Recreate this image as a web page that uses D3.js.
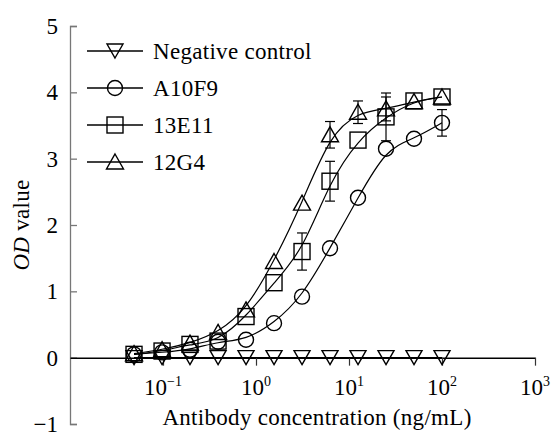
<!DOCTYPE html>
<html>
<head>
<meta charset="utf-8">
<script src="https://cdn.jsdelivr.net/npm/d3@7"></script>
<style>
  html, body { margin: 0; padding: 0; background: #fff; }
  #chart text { font-family: "Liberation Serif", "Times New Roman", serif !important; }
</style>
</head>
<body>
<svg id="chart" width="554" height="438"></svg>
<script>
// antibody concentration (ng/mL), twofold dilutions
const conc = [0.0488, 0.0977, 0.195, 0.391, 0.781, 1.5625, 3.125, 6.25, 12.5, 25, 50, 100];
const negValues  = [0.0, 0.0, 0.0, 0.0, 0.0, 0.0, 0.0, 0.0, 0.0, 0.0, 0.0, 0.0];
const a10f9Values = [0.05, 0.08, 0.12, 0.24, 0.27, 0.52, 0.92, 1.65, 2.41, 3.15, 3.30, 3.54];
const e13Values   = [0.05, 0.10, 0.20, 0.25, 0.62, 1.13, 1.60, 2.66, 3.28, 3.63, 3.87, 3.93];
const g4Values    = [0.06, 0.12, 0.22, 0.38, 0.72, 1.45, 2.33, 3.36, 3.70, 3.75, 3.86, 3.93];
const negErr   = [0, 0, 0, 0, 0, 0, 0, 0, 0, 0, 0, 0];
const a10f9Err = [0, 0, 0, 0, 0, 0, 0, 0, 0, 0, 0, 0.20];
const e13Err   = [0, 0, 0, 0, 0, 0, 0.28, 0.30, 0, 0.36, 0, 0];
const g4Err    = [0, 0, 0, 0, 0, 0, 0, 0.20, 0.17, 0.18, 0, 0];
const seriesNames = ['Negative control', 'A10F9', '13E11', '12G4'];
const seriesShapes = ['down', 'circle', 'square', 'up'];
const yTicks = [-1, 0, 1, 2, 3, 4, 5];
const xTickExp = [-1, 0, 1, 2, 3];

const FONT = '"Liberation Serif", "Times New Roman", serif';

const series = [
  { name: seriesNames[0], shape: seriesShapes[0], v: negValues, e: negErr },
  { name: seriesNames[1], shape: seriesShapes[1], v: a10f9Values, e: a10f9Err },
  { name: seriesNames[2], shape: seriesShapes[2], v: e13Values, e: e13Err },
  { name: seriesNames[3], shape: seriesShapes[3], v: g4Values, e: g4Err }
];

const svg = d3.select('#chart').style('font-family', FONT);
const x = d3.scaleLog().domain([0.01, 1000]).range([70, 535]);
const y = d3.scaleLinear().domain([-1, 5]).range([424, 26]);

// y axis (gray, ticks pointing inward)
const ya = svg.append('g').attr('transform', 'translate(70,0)')
  .call(d3.axisLeft(y).tickValues(yTicks).tickSizeInner(-7).tickSizeOuter(-7).tickPadding(12)
    .tickFormat(d3.format('d')));
ya.attr('font-family', null).attr('font-size', null);
ya.select('.domain').attr('stroke', '#777').attr('stroke-width', 1.3);
ya.selectAll('.tick line').attr('stroke', '#777').attr('stroke-width', 1.3);
ya.selectAll('.tick text').attr('fill', '#000').style('font-size', '23px');

// x axis along y = 0
const xa = svg.append('g').attr('transform', `translate(0,${y(0)})`)
  .call(d3.axisBottom(x).tickValues(xTickExp.map(p => Math.pow(10, p))).tickSizeInner(8).tickSizeOuter(0)
    .tickFormat(''));
xa.select('.domain').attr('stroke', '#000').attr('stroke-width', 1.5);
xa.selectAll('.tick line').attr('stroke', '#333').attr('stroke-width', 1.2);
xa.selectAll('.tick text').remove();

const xl = svg.append('g').selectAll('text').data(xTickExp).join('text')
  .attr('x', d => x(Math.pow(10, d)))
  .attr('y', 395)
  .attr('text-anchor', 'middle')
  .style('font-size', '23px');
xl.append('tspan').text('10');
xl.append('tspan').style('font-size', '14px').attr('dy', -9).text(d => d < 0 ? '\u2212' + Math.abs(d) : d);

// axis titles
svg.append('text').attr('x', 317).attr('y', 425).attr('text-anchor', 'middle')
  .style('font-size', '23px').style('letter-spacing', '0.3px').text('Antibody concentration (ng/mL)');
const yt = svg.append('text').attr('transform', 'translate(29,225) rotate(-90)')
  .attr('text-anchor', 'middle').style('font-size', '23px').style('letter-spacing', '0.3px');
yt.append('tspan').style('font-style', 'italic').text('OD');
yt.append('tspan').text(' value');

// markers
function marker(g, shape) {
  if (shape === 'circle') {
    g.append('circle').attr('r', 7.5);
  } else if (shape === 'square') {
    g.append('rect').attr('x', -8).attr('y', -8).attr('width', 16).attr('height', 16);
  } else if (shape === 'up') {
    g.append('path').attr('d', 'M0,-8L8.5,7L-8.5,7Z');
  } else {
    g.append('path').attr('d', 'M0,7L8,-7L-8,-7Z');
  }
  g.selectAll('*').attr('fill', 'none').attr('stroke', '#000').attr('stroke-width', 1.4);
}

const line = d3.line().x(d => x(d[0])).y(d => y(d[1])).curve(d3.curveBasis);

series.forEach(s => {
  const pts = conc.map((c, i) => [c, s.v[i], s.e[i]]);
  svg.append('path').attr('d', line(pts)).attr('fill', 'none')
    .attr('stroke', '#000').attr('stroke-width', 1.2);
  const eb = svg.append('g').attr('stroke', '#000').attr('stroke-width', 1.2);
  pts.filter(p => p[2] > 0).forEach(p => {
    const cx = x(p[0]);
    eb.append('line').attr('x1', cx).attr('x2', cx).attr('y1', y(p[1] - p[2])).attr('y2', y(p[1] + p[2]));
    eb.append('line').attr('x1', cx - 5).attr('x2', cx + 5).attr('y1', y(p[1] + p[2])).attr('y2', y(p[1] + p[2]));
    eb.append('line').attr('x1', cx - 5).attr('x2', cx + 5).attr('y1', y(p[1] - p[2])).attr('y2', y(p[1] - p[2]));
  });
});

series.forEach(s => {
  conc.forEach((c, i) => {
    const g = svg.append('g').attr('transform', `translate(${x(c)},${y(s.v[i])})`);
    marker(g, s.shape);
  });
});

// legend
const legY = [51, 88, 125, 162];
series.forEach((s, i) => {
  const g = svg.append('g').attr('transform', `translate(0,${legY[i]})`);
  g.append('line').attr('x1', 87).attr('x2', 143).attr('stroke', '#000').attr('stroke-width', 1.5);
  marker(g.append('g').attr('transform', 'translate(115,0)'), s.shape);
  g.append('text').attr('x', 153).attr('dy', '0.35em').style('font-size', '23px')
    .style('letter-spacing', '0.3px').text(s.name);
});
</script>
</body>
</html>
